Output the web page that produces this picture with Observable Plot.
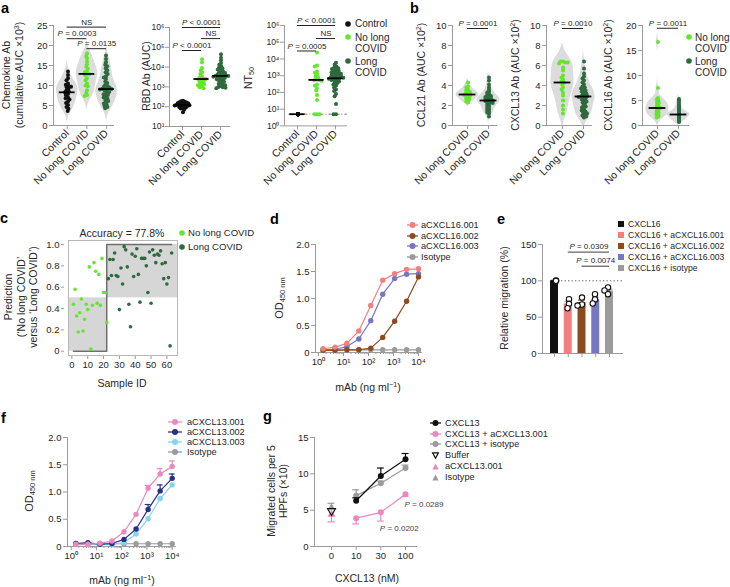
<!DOCTYPE html>
<html>
<head>
<meta charset="utf-8">
<script src="https://cdn.jsdelivr.net/npm/d3@7"></script>
<script src="https://cdn.jsdelivr.net/npm/@observablehq/plot@0.6"></script>
<style>
  html, body { margin: 0; padding: 0; background: #fff; }
  #fig { position: relative; width: 730px; height: 587px; overflow: hidden; background: #fff;
         font-family: "Liberation Sans", Arial, Helvetica, sans-serif; color: #262626; }
  #fig sup { font-size: 0.68em; line-height: 0; vertical-align: 0.5em; }
  #fig sub { font-size: 0.68em; line-height: 0; vertical-align: -0.3em; }
</style>
</head>
<body>
<div id="fig"></div>
<script>
// ================= DATA =================
const abCats = ["Control", "No long COVID", "Long COVID"];
const bCats = ["No long COVID", "Long COVID"];

// a: chemokine Ab (cumulative AUC x10^3)
const chemControl = [13.5, 12.6, 11.8, 11.3, 10.5, 10.2, 9.9, 9.7, 9.6, 9.2, 8.8, 8.5, 8.3, 7.9, 7.6, 7.0, 6.8, 6.5, 6.0, 5.6, 5.1, 4.6, 4.2, 3.6];
const chemNoLong = [18.0, 17.4, 16.8, 16.0, 15.3, 14.7, 14.2, 13.6, 13.3, 12.9, 12.8, 12.6, 11.8, 11.3, 10.5, 10.0, 9.8, 8.8, 8.2, 7.6, 7.4];
const chemLong = [17.5, 16.6, 15.8, 15.2, 14.8, 14.3, 13.8, 13.3, 12.9, 12.3, 12.0, 11.6, 11.0, 10.6, 10.2, 9.9, 9.7, 9.5, 9.3, 9.2, 9.1, 9.0, 8.8, 8.6, 8.4, 8.0, 7.8, 7.6, 7.2, 7.0, 6.7, 6.4, 6.1, 5.8, 5.5, 5.2, 4.9, 4.6, 4.3];
const chemMedian = [8.3, 12.9, 9.1];
const chemBrackets = [
  {from: 0, to: 2, y: 24.6, label: "NS"},
  {from: 0, to: 1, y: 21.7, label: "P = 0.0003"},
  {from: 1, to: 2, y: 19.2, label: "P = 0.0135"}
];

// a: RBD Ab (AUC)
const rbdControl = [200, 190, 180, 170, 165, 160, 150, 145, 140, 135, 130, 125, 122, 120, 118, 115, 110, 105, 100, 95, 90, 85, 80, 70, 52];
const rbdNoLong = [25000, 17000, 9000, 7000, 5500, 4500, 3500, 3000, 2700, 2500, 2400, 2200, 2000, 1800, 1600, 1400, 1300, 1200, 1050, 950, 850];
const rbdLong = [45000, 30000, 22000, 16000, 13000, 11000, 9500, 8500, 7500, 6800, 6000, 5500, 5000, 4600, 4300, 4000, 3800, 3700, 3600, 3500, 3300, 3100, 3000, 2800, 2600, 2400, 2200, 2000, 1800, 1600, 1400, 1300, 1200, 1100, 1000, 950, 900, 850];
const rbdMedian = [120, 2500, 3600];
const rbdBrackets = [
  {from: 0, to: 2, y: 1e6, label: "P < 0.0001"},
  {from: 1, to: 2, y: 2.75e5, label: "NS"},
  {from: 0, to: 1, y: 6.9e4, label: "P < 0.0001"}
];

// a: NT50
const ntControl = [5, 5, 5, 5, 5, 5, 5, 5, 5, 5, 5, 5, 5, 5, 5, 5, 5, 5, 5, 5, 5, 5, 5, 5];
const ntNoLong = [24000, 4000, 3500, 1800, 1500, 1200, 900, 800, 600, 560, 540, 500, 300, 250, 180, 130, 70, 35, 5, 5, 5];
const ntLong = [6000, 4500, 3500, 3000, 2800, 2500, 2200, 2000, 1800, 1600, 1500, 1400, 1300, 1200, 1100, 1000, 950, 900, 850, 800, 750, 700, 680, 650, 600, 550, 500, 450, 400, 350, 300, 250, 200, 150, 120, 80, 60, 20, 5, 5];
const ntMedian = [5, 560, 700];
const ntLimit = 5;
const ntBrackets = [
  {from: 0, to: 2, y: 1e6, label: "P < 0.0001"},
  {from: 1, to: 2, y: 1.66e5, label: "NS"},
  {from: 0, to: 1, y: 3.0e4, label: "P = 0.0005"}
];

// b: CCL21, CXCL13, CXCL16 Ab (AUC x10^2)
const ccl21NoLong = [4.3, 3.9, 3.8, 3.6, 3.5, 3.4, 3.35, 3.3, 3.2, 3.15, 3.1, 3.05, 3.0, 2.95, 2.9, 2.8, 2.7, 2.65, 2.5, 2.4, 2.3];
const ccl21Long = [4.8, 4.5, 4.1, 3.8, 3.6, 3.4, 3.3, 3.2, 3.1, 3.0, 2.95, 2.9, 2.85, 2.8, 2.75, 2.7, 2.65, 2.6, 2.55, 2.5, 2.5, 2.45, 2.4, 2.35, 2.3, 2.25, 2.2, 2.1, 2.0, 1.9, 1.8, 1.7, 1.6, 1.5, 1.4, 1.3, 1.2, 0.9];
const ccl21Median = [3.1, 2.5];
const cxcl13NoLong = [6.4, 6.4, 6.3, 6.3, 6.2, 5.8, 5.5, 5.0, 4.8, 4.6, 4.4, 4.3, 4.1, 3.8, 3.6, 3.3, 3.0, 2.5, 2.0, 1.6, 1.2];
const cxcl13Long = [6.4, 5.7, 5.2, 4.9, 4.7, 4.5, 4.3, 4.1, 3.9, 3.8, 3.7, 3.6, 3.5, 3.4, 3.3, 3.2, 3.1, 3.0, 2.95, 2.9, 2.85, 2.8, 2.7, 2.6, 2.5, 2.4, 2.3, 2.2, 2.0, 1.9, 1.8, 1.6, 1.5, 1.4, 1.3, 1.2, 1.1, 1.0, 0.9, 0.8];
const cxcl13Median = [4.3, 2.9];
const cxcl16NoLong = [16.7, 7.5, 5.5, 5.2, 5.0, 4.7, 4.5, 4.3, 4.0, 3.8, 3.6, 3.5, 3.3, 3.0, 2.8, 2.6, 2.4, 2.2, 2.0, 1.8, 1.6];
const cxcl16Long = [5.3, 5.0, 4.6, 4.2, 3.9, 3.6, 3.4, 3.2, 3.0, 2.9, 2.8, 2.7, 2.6, 2.5, 2.45, 2.4, 2.35, 2.3, 2.25, 2.2, 2.2, 2.15, 2.1, 2.0, 1.95, 1.9, 1.8, 1.7, 1.6, 1.5, 1.4, 1.3, 1.2, 1.1, 1.0, 0.9, 0.8, 0.7];
const cxcl16Median = [3.5, 2.2];
const ccl21Brackets = [{from: 0, to: 1, y: 9.7, label: "P = 0.0001"}];
const cxcl13Brackets = [{from: 0, to: 1, y: 9.7, label: "P = 0.0010"}];
const cxcl16Brackets = [{from: 0, to: 1, y: 19.45, label: "P = 0.0011"}];

// c: prediction per sample (IDs 1..22 no long COVID, 23..63 long COVID)
const cNoLong = [0.44, 0.58, 0.33, 0.18, 0.36, 0.49, 0.19, 0.30, 0.44, 0.39, 0.79, 0.02, 0.43, 0.83, 0.75, 0.45, 0.72, 0.43, 0.87, 0.55, 0.55, 0.27];
const cLong = [0.68, 0.86, 0.71, 0.86, 0.92, 0.71, 0.70, 0.39, 0.78, 0.63, 0.98, 0.95, 0.79, 0.44, 0.23, 0.91, 0.70, 0.89, 0.96, 0.72, 0.46, 0.87, 0.87, 0.87, 0.80, 0.55, 0.93, 0.45, 0.95, 0.90, 0.83, 0.91, 0.90, 0.94, 0.82, 0.68, 0.83, 0.63, 0.69, 0.05, 0.92];
const cSplit = 22, cCut = 0.5;
const cBoundary = [{id: 1, p: 0}, {id: 22, p: 0}, {id: 22, p: 1}, {id: 63, p: 1}];

// d: aCXCL16 ELISA
const mAbConc = [1.524, 4.572, 13.72, 41.15, 123.5, 370.4, 1111, 3333, 10000];
const d001 = [0.07, 0.10, 0.17, 0.40, 0.87, 1.34, 1.46, 1.54, 1.55];
const d002 = [0.04, 0.04, 0.05, 0.05, 0.08, 0.28, 0.58, 0.95, 1.40];
const d003 = [0.05, 0.06, 0.11, 0.25, 0.59, 1.08, 1.37, 1.45, 1.46];
const dIso = [0.05, 0.05, 0.05, 0.05, 0.05, 0.05, 0.05, 0.05, 0.05];

// e: relative migration
const eGroups = ["CXCL16", "CXCL16 + aCXCL16.001", "CXCL16 + aCXCL16.002", "CXCL16 + aCXCL16.003", "CXCL16 + isotype"];
const eMean = [100, 68, 70, 74, 86];
const eUpper = [100.6, 72, 73.5, 77.5, 88.5];
const ePoints = [[100, 100, 100], [74.8, 68.3, 62.3], [77, 67.4, 66], [81.7, 74.3, 68.8], [90.9, 86.8, 81.7]];
const eBrackets = [{from: 1, to: 4, y: 139.4, label: "P = 0.0309"}, {from: 2, to: 4, y: 120.1, label: "P = 0.0074"}];

// f: aCXCL13 ELISA
const f001 = [0.04, 0.04, 0.06, 0.10, 0.27, 0.59, 1.07, 1.33, 1.47];
const f001Hi = [null, null, null, null, null, null, 1.12, 1.43, 1.57];
const f002 = [0.055, 0.07, 0.04, 0.055, 0.13, 0.32, 0.68, 1.02, 1.25];
const f002Hi = [null, null, null, null, null, null, 0.77, 1.13, 1.33];
const f003 = [0.04, 0.04, 0.04, 0.04, 0.07, 0.23, 0.51, 0.88, 1.13];
const fIso = [0.05, 0.05, 0.05, 0.05, 0.05, 0.05, 0.05, 0.05, 0.05];

// g: migration
const gConc = ["0", "10", "30", "100"];
const gCXCL13 = [null, 6.3, 9.7, 12.0];
const gCXCL13Hi = [null, 6.7, 10.8, 12.8];
const gAnti = [null, 3.9, 4.7, 7.2];
const gAntiLo = [null, 3.1, 3.5, 6.9];
const gIsoMix = [null, 7.0, 8.7, 10.8];
const gIsoMixHi = [null, 7.8, 9.0, 11.2];
const gBuffer = [4.9, null, null, null];
const gAntiOnly = [4.4, null, null, null];
const gAntiOnlyLo = [3.4, null, null, null];
const gIsoOnly = [5.3, null, null, null];
const gIsoOnlyHi = [5.95, null, null, null];
const gNotes = [{i: 3, y: 5.8, label: "P = 0.0289"}, {i: 2, y: 2.5, label: "P = 0.0202"}];

// ================= STYLE =================
const FONT = '"Liberation Sans", Arial, Helvetica, sans-serif';
const AX = "#9b9b9b", TXT = "#262626";
const GREEN = "#63e62d", DKGREEN = "#2e6a3e", BLACK = "#111111";
const SALMON = "#f27f7f", BROWN = "#8b4b1f", SLATE = "#7676c2", GREY = "#9b9b9b";
const PINK = "#ea88c0", NAVY = "#2c2f86", SKY = "#84d3f5";
const eColors = [BLACK, SALMON, BROWN, SLATE, GREY];

const fig = document.getElementById("fig");

function plotAt(l, t, r, b, opts) {
  const svg = Plot.plot(Object.assign({
    width: r - l, height: b - t,
    marginTop: 0, marginRight: 0, marginBottom: 0, marginLeft: 0
  }, opts, {
    style: {overflow: "visible", background: "transparent", fontFamily: FONT, fontSize: "9.5px", color: TXT, maxWidth: "none"}
  }));
  svg.style.position = "absolute";
  svg.style.left = l + "px";
  svg.style.top = t + "px";
  fig.appendChild(svg);
  return svg;
}
const yAxis = (ticks, fmt, o = {}) => Plot.axisY(Object.assign({ticks, tickFormat: fmt, tickSize: 4, tickPadding: 2, stroke: AX, fill: TXT, fontSize: 9.5, label: null}, o));
const xAxis = (ticks, fmt, o = {}) => Plot.axisX(Object.assign({ticks, tickFormat: fmt, tickSize: 4, tickPadding: 2, stroke: AX, fill: TXT, fontSize: 9.5, label: null}, o));
const SUP = "⁰¹²³⁴⁵⁶⁷⁸⁹";
const pow10 = d => "10" + String(Math.round(Math.log10(d))).split("").map(ch => SUP[+ch]).join("");
const dec1 = d => d === 0 ? "0" : d.toFixed(1);

function violinShape(vals, floor) {
  const n = vals.length;
  const q1 = d3.quantile(vals, 0.25), q3 = d3.quantile(vals, 0.75);
  const spread = Math.min(d3.deviation(vals), (q3 - q1) / 1.34);
  const bw = 0.9 * spread * Math.pow(n, -0.2);
  const lo = Math.max(floor, d3.min(vals) - 2.2 * bw), hi = d3.max(vals) + 2.2 * bw;
  const ys = d3.range(61).map(k => lo + (hi - lo) * k / 60);
  const dens = ys.map(y => d3.sum(vals, v => Math.exp(-0.5 * ((y - v) / bw) ** 2)));
  const m = d3.max(dens);
  return ys.map((y, k) => ({y, w: 0.55 * dens[k] / m}));
}

// strip (scatter-dot) chart built from three layers
function strip(c) {
  const n = c.cats.length;
  const xd = [-c.g / c.s, (c.W - c.g) / c.s];
  const ysc = {type: c.ytype || "linear", domain: c.ydomain};
  const bg = [];
  if (c.violin) c.groups.forEach((gp, i) => bg.push(Plot.areaX(violinShape(gp.vals, c.ydomain[0]), {y: "y", x1: d => i - d.w, x2: d => i + d.w, fill: "#dcdcdc", curve: "basis"})));
  if (c.lod != null) bg.push(Plot.ruleY([c.lod], {x1: -0.45, x2: xd[1], stroke: "#555", strokeWidth: 0.8, strokeDasharray: "3,2,1,2"}));
  bg.push(
    Plot.ruleX([xd[0]], {stroke: AX}),
    Plot.ruleY([c.ydomain[0]], {stroke: AX}),
    yAxis(c.yticks, c.yfmt, {fontSize: c.yfs || 9.5, tickPadding: c.ytp ?? 2}),
    xAxis(d3.range(n), i => c.cats[i], {tickRotate: -45, fontSize: 10.5})
  );
  plotAt(c.L, c.T, c.L + c.W, c.B, {x: {domain: xd}, y: ysc, marks: bg});
  const dl = c.L + c.g - c.s / 2, dr = c.L + c.g + (n - 0.5) * c.s;
  plotAt(dl, c.T, dr, c.B, {
    fx: {domain: c.cats, padding: 0, axis: null},
    y: Object.assign({axis: null}, ysc),
    marks: c.groups.map((gp, i) => Plot.dot(gp.vals.map(v => ({cat: c.cats[i], v})),
      Plot.dodgeX({anchor: "middle", padding: gp.pad ?? -1.5}, {fx: "cat", y: "v", r: 2, fill: gp.color})))
  });
  plotAt(c.L, c.T, c.L + c.W, c.B, {
    x: {domain: xd, axis: null}, y: Object.assign({axis: null}, ysc),
    marks: [
      Plot.ruleY(c.meds, {x1: (d, i) => i - 0.4, x2: (d, i) => i + 0.4, y: d => d, stroke: "#000", strokeWidth: 1.8}),
      Plot.ruleY(c.brackets, {x1: "from", x2: "to", y: "y", stroke: "#222", strokeWidth: 1}),
      Plot.text(c.brackets, {x: d => (d.from + d.to) / 2, y: "y", text: "label", dy: -5, fontSize: 8, fill: TXT})
    ]
  });
}

// ---- panel a ----
strip({L: 53, T: 25, W: 61, B: 125, g: 13.7, s: 19.7, cats: abCats, ydomain: [0, 25], yticks: [0, 5, 10, 15, 20, 25], violin: true,
  groups: [{vals: chemControl, color: BLACK}, {vals: chemNoLong, color: GREEN}, {vals: chemLong, color: DKGREEN}],
  meds: chemMedian, brackets: chemBrackets});
strip({L: 169, T: 26.7, W: 61, B: 125.7, g: 13, s: 19, cats: abCats, ytype: "log", ydomain: [10, 1e6], yticks: [10, 100, 1e3, 1e4, 1e5, 1e6], yfmt: pow10, yfs: 8.6, ytp: 1,
  groups: [{vals: rbdControl, color: BLACK, pad: -2.0}, {vals: rbdNoLong, color: GREEN}, {vals: rbdLong, color: DKGREEN}],
  meds: rbdMedian, brackets: rbdBrackets});
strip({L: 284, T: 25.3, W: 63, B: 125.7, g: 13, s: 19, cats: abCats, ytype: "log", ydomain: [1, 1e6], yticks: [1, 10, 100, 1e3, 1e4, 1e5, 1e6], yfmt: pow10, yfs: 8.6, ytp: 1, lod: ntLimit,
  groups: [{vals: ntControl, color: BLACK, pad: -3.4}, {vals: ntNoLong, color: GREEN}, {vals: ntLong, color: DKGREEN}],
  meds: ntMedian, brackets: ntBrackets});

// ---- panel b ----
strip({L: 452, T: 25, W: 45, B: 125, g: 15, s: 21, cats: bCats, ydomain: [0, 10], yticks: [0, 2, 4, 6, 8, 10], violin: true,
  groups: [{vals: ccl21NoLong, color: GREEN, pad: -2}, {vals: ccl21Long, color: DKGREEN, pad: -2}], meds: ccl21Median, brackets: ccl21Brackets});
strip({L: 546, T: 25, W: 46, B: 125, g: 16, s: 21, cats: bCats, ydomain: [0, 10], yticks: [0, 2, 4, 6, 8, 10], violin: true,
  groups: [{vals: cxcl13NoLong, color: GREEN}, {vals: cxcl13Long, color: DKGREEN}], meds: cxcl13Median, brackets: cxcl13Brackets});
strip({L: 642, T: 25, W: 47, B: 125, g: 15, s: 21, cats: bCats, ydomain: [0, 20], yticks: [0, 5, 10, 15, 20], violin: true,
  groups: [{vals: cxcl16NoLong, color: GREEN, pad: -2}, {vals: cxcl16Long, color: DKGREEN, pad: -2.2}], meds: cxcl16Median, brackets: cxcl16Brackets});

// ---- panel c ----
{
  const xd = [-2.15, 66.7], yd = [-0.04, 1.0375];
  const noRows = cNoLong.map((p, k) => ({id: k + 1, p}));
  const lRows = cLong.map((p, k) => ({id: cNoLong.length + k + 1, p}));
  const regions = [{x1: xd[0], x2: cSplit, y1: 0, y2: cCut}, {x1: cSplit, x2: xd[1], y1: cCut, y2: 1}];
  plotAt(68.3, 240, 177.3, 355, {
    x: {domain: xd}, y: {domain: yd},
    marks: [
      Plot.rect(regions, {x1: "x1", x2: "x2", y1: "y1", y2: "y2", fill: "#d6d6d6"}),
      Plot.frame({stroke: "#b8b8b8"}),
      Plot.line(cBoundary, {x: "id", y: "p", stroke: "#6e6e6e", strokeWidth: 1.5}),
      Plot.dot(noRows, {x: "id", y: "p", r: 1.8, fill: GREEN}),
      Plot.dot(lRows, {x: "id", y: "p", r: 1.8, fill: DKGREEN}),
      yAxis([0, 0.2, 0.4, 0.6, 0.8, 1.0], dec1, {tickSize: 3, dx: -4}),
      xAxis([0, 10, 20, 30, 40, 50, 60], null, {tickSize: 3, dy: 1})
    ]
  });
}

// ---- panel d ----
const logMinor = [1, 10, 100, 1000].flatMap(p => [2, 3, 4, 5, 6, 7, 8, 9].map(m => m * p));
function elisa(frame, xd, series) {
  const marks = [
    Plot.ruleX([xd[0]], {stroke: AX}),
    Plot.ruleY([0], {stroke: AX}),
    yAxis([0, 0.5, 1, 1.5, 2], dec1),
    xAxis(logMinor, () => "", {tickSize: 2}),
    xAxis([1, 10, 100, 1000, 10000], pow10)
  ];
  for (const s of series) {
    const rows = s.vals.map((v, k) => ({x: mAbConc[k], v, hi: s.hi ? s.hi[k] : null}));
    marks.push(Plot.line(rows, {x: "x", y: "v", stroke: s.color, strokeWidth: 1.2}));
    if (s.hi) {
      const er = rows.filter(d => d.hi != null);
      marks.push(Plot.ruleX(er, {x: "x", y1: "v", y2: "hi", stroke: s.color, strokeWidth: 1.2}));
      marks.push(Plot.ruleY(er, {x1: d => d.x / 1.3, x2: d => d.x * 1.3, y: "hi", stroke: s.color, strokeWidth: 1.2}));
    }
    marks.push(Plot.dot(rows, {x: "x", y: "v", r: 2.7, fill: s.color}));
  }
  plotAt(frame[0], frame[1], frame[2], frame[3], {x: {type: "log", domain: xd}, y: {domain: [0, 2]}, marks});
}
elisa([315, 244, 422, 352], [0.759, 14454], [
  {vals: dIso, color: GREY}, {vals: d003, color: SLATE}, {vals: d002, color: BROWN}, {vals: d001, color: SALMON}
]);

// ---- panel e ----
{
  const L = 542, T = 244, W = 81, B = 353, g = 12, s = 13.75;
  const xd = [-g / s, (W - g) / s];
  const marks = [Plot.ruleY([100], {x1: 0, x2: xd[1], stroke: "#444", strokeWidth: 0.9, strokeDasharray: "1.3,2.2"})];
  eMean.forEach((m, i) => {
    marks.push(
      Plot.ruleX([i], {y1: m, y2: eUpper[i], stroke: eColors[i], strokeWidth: 1.2}),
      Plot.ruleY([eUpper[i]], {x1: i - 0.24, x2: i + 0.24, stroke: eColors[i], strokeWidth: 1.2}),
      Plot.rect([m], {x1: i - 0.29, x2: i + 0.29, y1: 0, y2: d => d, fill: eColors[i]})
    );
  });
  marks.push(
    Plot.ruleX([xd[0]], {stroke: AX}),
    Plot.ruleY([0], {stroke: AX}),
    yAxis([0, 50, 100, 150], null),
    xAxis(d3.range(5), () => "", {tickSize: 4}),
    Plot.ruleY(eBrackets, {x1: "from", x2: "to", y: "y", stroke: "#666", strokeWidth: 1.3}),
    Plot.text(eBrackets, {x: d => (d.from + d.to) / 2, y: "y", text: "label", dy: -5.5, fontSize: 8, fill: TXT})
  );
  plotAt(L, T, L + W, B, {x: {domain: xd}, y: {domain: [0, 150]}, marks});
  plotAt(L + g - s / 2, T, L + g + 4.5 * s, B, {
    fx: {domain: eGroups, padding: 0, axis: null}, y: {domain: [0, 150], axis: null},
    marks: ePoints.map((pts, i) => Plot.dot(pts.map(v => ({grp: eGroups[i], v})),
      Plot.dodgeX({anchor: "middle", padding: i === 0 ? -4.5 : -0.8}, {fx: "grp", y: "v", r: 2.7, fill: "white", stroke: "#111", strokeWidth: 1.1})))
  });
}

// ---- panel f ----
elisa([67, 437, 175.7, 546], [0.714, 14388], [
  {vals: fIso, color: GREY}, {vals: f003, color: SKY}, {vals: f002, color: NAVY, hi: f002Hi}, {vals: f001, color: PINK, hi: f001Hi}
]);

// ---- panel g ----
{
  const L = 314, T = 437, W = 103, B = 546, g = 17, s = 24.67;
  const xd = [-g / s, (W - g) / s];
  const rowsOf = (vals, err) => vals.map((v, i) => ({i, v, e: err ? err[i] : null})).filter(d => d.v != null);
  const marks = [
    Plot.ruleX([xd[0]], {stroke: AX}),
    Plot.ruleY([0], {stroke: AX}),
    yAxis([0, 5, 10, 15], null),
    xAxis(d3.range(4), i => gConc[i])
  ];
  const series = [
    {vals: gIsoMix, err: gIsoMixHi, color: GREY, line: true},
    {vals: gAnti, err: gAntiLo, color: PINK, line: true},
    {vals: gCXCL13, err: gCXCL13Hi, color: BLACK, line: true},
    {vals: gIsoOnly, err: gIsoOnlyHi, color: GREY, symbol: "triangle"},
    {vals: gAntiOnly, err: gAntiOnlyLo, color: PINK, symbol: "triangle"},
    {vals: gBuffer, color: BLACK, symbol: "triangle", open: true}
  ];
  for (const sr of series) {
    const rows = rowsOf(sr.vals, sr.err);
    const er = rows.filter(d => d.e != null);
    if (sr.line) marks.push(Plot.line(rows, {x: "i", y: "v", stroke: sr.color, strokeWidth: 1.2}));
    marks.push(Plot.ruleX(er, {x: "i", y1: "v", y2: "e", stroke: sr.color, strokeWidth: 1.2}));
    marks.push(Plot.ruleY(er, {x1: d => d.i - 0.14, x2: d => d.i + 0.14, y: "e", stroke: sr.color, strokeWidth: 1.2}));
    if (sr.symbol) {
      marks.push(Plot.dot(rows, sr.open
        ? {x: "i", y: "v", r: 3, symbol: "triangle", rotate: 180, fill: "none", stroke: sr.color, strokeWidth: 1.1}
        : {x: "i", y: "v", r: 3, symbol: "triangle", fill: sr.color}));
    } else {
      marks.push(Plot.dot(rows, {x: "i", y: "v", r: 3, fill: sr.color}));
    }
  }
  marks.push(Plot.text(gNotes, {x: "i", y: "y", text: "label", textAnchor: "start", dx: -1, fontSize: 8, fill: "#444"}));
  plotAt(L, T, L + W, B, {x: {domain: xd}, y: {domain: [0, 15]}, marks});
}

// ================= TEXT / LEGENDS =================
function txt(html, x, y, o = {}) {
  const size = o.size || 10.5, lh = o.lh || Math.round(size * 1.2);
  const d = document.createElement("div");
  d.innerHTML = html;
  const tf = o.anchor === "start" ? "translate(0,-50%)" : "translate(-50%,-50%)" + (o.rot ? " rotate(-90deg)" : "");
  d.style.cssText = `position:absolute;left:${x}px;top:${y}px;font-size:${size}px;line-height:${lh}px;white-space:nowrap;` +
    `text-align:${o.anchor === "start" ? "left" : "center"};color:${o.color || TXT};font-weight:${o.bold ? 700 : 400};transform:${tf};`;
  fig.appendChild(d);
}
function icon(x, y, w, h, inner) {
  const d = document.createElement("div");
  d.style.cssText = `position:absolute;left:${x}px;top:${y - h / 2}px;width:${w}px;height:${h}px;`;
  d.innerHTML = `<svg width="${w}" height="${h}" viewBox="0 0 ${w} ${h}" style="overflow:visible;display:block">${inner}</svg>`;
  fig.appendChild(d);
}
const dotIcon = c => `<circle cx="3" cy="3" r="2.8" fill="${c}"/>`;
const lineDot = (c, w) => `<line x1="0" x2="${w}" y1="4" y2="4" stroke="${c}" stroke-width="1.3"/><circle cx="${w / 2}" cy="4" r="3" fill="${c}"/>`;

// panel letters
[["a", 1, 8], ["b", 410, 8], ["c", 0, 218], ["d", 270, 218.5], ["e", 497, 219], ["f", 1, 417.5], ["g", 263, 416]]
  .forEach(([t, x, y]) => txt(t, x, y, {anchor: "start", size: 14.5, bold: true, lh: 14, color: "#000"}));

// axis titles
txt("Chemokine Ab<br>(cumulative AUC ×10<sup>3</sup>)", 12.5, 75, {rot: true, lh: 13});
txt("RBD Ab (AUC)", 146, 76, {rot: true});
txt("NT<sub>50</sub>", 248, 78, {rot: true});
txt("CCL21 Ab (AUC ×10<sup>2</sup>)", 421, 75, {rot: true});
txt("CXCL13 Ab (AUC ×10<sup>2</sup>)", 515, 75, {rot: true});
txt("CXCL16 Ab (AUC ×10<sup>2</sup>)", 608, 75, {rot: true});
txt("Prediction<br>(‘No long COVID’<br>versus ‘Long COVID’)", 21, 297, {rot: true, lh: 12.5});
txt("Accuracy = 77.8%", 122, 233);
txt("Sample ID", 122, 383);
txt("OD<sub>450 nm</sub>", 279, 298, {rot: true, size: 11});
txt("mAb (ng ml<sup>−1</sup>)", 368, 387);
txt("Relative migration (%)", 504, 298, {rot: true});
txt("OD<sub>450 nm</sub>", 29, 491, {rot: true, size: 11});
txt("mAb (ng ml<sup>−1</sup>)", 122, 580);
txt("Migrated cells per 5<br>HPFs (×10)", 277, 491, {rot: true, lh: 12});
txt("CXCL13 (nM)", 367, 578);

// legends a / b / c
icon(345.2, 24, 6, 6, dotIcon(BLACK)); txt("Control", 355, 24, {anchor: "start", size: 10});
icon(345.2, 37, 6, 6, dotIcon(GREEN)); txt("No long<br>COVID", 355, 42.5, {anchor: "start", size: 10, lh: 11});
icon(345.2, 61, 6, 6, dotIcon(DKGREEN)); txt("Long<br>COVID", 355, 66.5, {anchor: "start", size: 10, lh: 11});
icon(686.2, 37, 6, 6, dotIcon(GREEN)); txt("No long<br>COVID", 695, 42.5, {anchor: "start", size: 10, lh: 11});
icon(686.2, 61, 6, 6, dotIcon(DKGREEN)); txt("Long<br>COVID", 695, 66.5, {anchor: "start", size: 10, lh: 11});
icon(179.2, 233, 6, 6, dotIcon(GREEN)); txt("No long COVID", 188, 233, {anchor: "start", size: 9.6});
icon(179.2, 247, 6, 6, dotIcon(DKGREEN)); txt("Long COVID", 188, 247, {anchor: "start", size: 9.6});

// legend d
[["aCXCL16.001", SALMON, 225], ["aCXCL16.002", BROWN, 235.5], ["aCXCL16.003", SLATE, 246], ["Isotype", GREY, 256.5]]
  .forEach(([t, c, y]) => { icon(407, y, 11, 8, lineDot(c, 11)); txt(t, 421, y, {anchor: "start", size: 9.2}); });
// legend e
eGroups.forEach((t, i) => {
  const y = [224.3, 235, 246, 256.7, 267.7][i];
  icon(617.5, y, 6, 6, `<rect x="0" y="0" width="6" height="6" fill="${eColors[i]}"/>`);
  txt(t, 628, y, {anchor: "start", size: 8.6});
});
// legend f
[["aCXCL13.001", PINK, 422], ["aCXCL13.002", NAVY, 432], ["aCXCL13.003", SKY, 442], ["Isotype", GREY, 452]]
  .forEach(([t, c, y]) => { icon(168, y, 14, 8, lineDot(c, 14)); txt(t, 187, y, {anchor: "start", size: 9.2}); });
// legend g
[["CXCL13", BLACK, 423], ["CXCL13 + aCXCL13.001", PINK, 433.5], ["CXCL13 + isotype", GREY, 444]]
  .forEach(([t, c, y]) => { icon(430, y, 11, 8, lineDot(c, 11)); txt(t, 445, y, {anchor: "start", size: 9.2}); });
icon(432, 455, 7, 7, `<path d="M0.6,0.8 L6.4,0.8 L3.5,6.2 Z" fill="white" stroke="${BLACK}" stroke-width="1.2"/>`); txt("Buffer", 445, 455, {anchor: "start", size: 9.2});
icon(432, 466, 7, 7, `<path d="M0.3,6.5 L6.7,6.5 L3.5,0.5 Z" fill="${PINK}"/>`); txt("aCXCL13.001", 445, 466, {anchor: "start", size: 9.2});
icon(432, 477, 7, 7, `<path d="M0.3,6.5 L6.7,6.5 L3.5,0.5 Z" fill="${GREY}"/>`); txt("Isotype", 445, 477, {anchor: "start", size: 9.2});

// italic P in statistics labels
fig.querySelectorAll("svg text").forEach(t => {
  if (t.children.length === 0 && /^P [=<]/.test(t.textContent)) {
    const rest = t.textContent.slice(1);
    t.textContent = "";
    const ts = document.createElementNS("http://www.w3.org/2000/svg", "tspan");
    ts.setAttribute("font-style", "italic");
    ts.textContent = "P";
    t.appendChild(ts);
    t.appendChild(document.createTextNode(rest));
  }
});
</script>
</body>
</html>
